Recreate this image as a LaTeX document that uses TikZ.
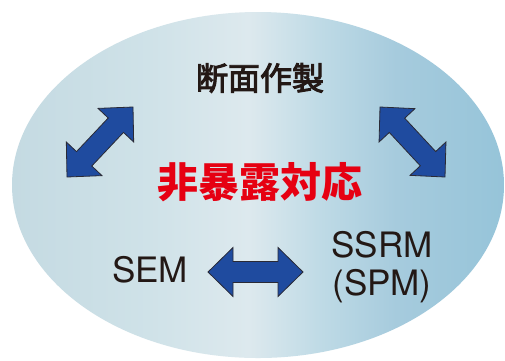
\documentclass[tikz,border=0pt]{standalone}
\usepackage{fontspec}
\setmainfont{TeX Gyre Heros}
\newfontfamily\jpfont{Noto Sans CJK JP}
\newfontfamily\jpmedium[FakeBold=3]{Noto Sans CJK JP}
\usetikzlibrary{calc}
\definecolor{txt}{HTML}{231815}
\definecolor{redtxt}{HTML}{E60012}
\definecolor{arrowblue}{HTML}{1F4B9F}
\definecolor{arrowedge}{HTML}{2A2A35}
\pgfdeclarehorizontalshading{ovalshade}{100bp}{%
  rgb(0bp)=(0.769,0.855,0.886);
  rgb(25bp)=(0.769,0.855,0.886);
  rgb(39bp)=(0.812,0.886,0.910);
  rgb(49bp)=(0.867,0.914,0.933);
  rgb(56bp)=(0.753,0.859,0.902);
  rgb(64bp)=(0.651,0.796,0.867);
  rgb(75bp)=(0.588,0.769,0.851);
  rgb(100bp)=(0.588,0.769,0.851)}
\tikzset{
  jplabel/.style={font=\jpmedium\fontsize{32}{36}\selectfont, text=txt, inner sep=0pt},
  keylabel/.style={font=\jpfont\bfseries\fontsize{41}{46}\selectfont, text=redtxt, inner sep=0pt},
  latlabel/.style={font=\fontsize{35}{38}\selectfont, text=txt, inner sep=0pt, align=center},
  fatarrow/.style={fill=arrowblue, draw=arrowedge, line width=0.8pt, line join=miter}
}
% double fat arrow between two named coordinates
\newcommand\dblarrow[2]{%
  \draw[fatarrow]
    (#1)
    -- ($ ($(#1)!25pt!(#2)$)!24.5pt!90:(#2) $)
    -- ($ ($(#1)!25pt!(#2)$)!10.5pt!90:(#2) $)
    -- ($ ($(#2)!25pt!(#1)$)!10.5pt!-90:(#1) $)
    -- ($ ($(#2)!25pt!(#1)$)!24.5pt!-90:(#1) $)
    -- (#2)
    -- ($ ($(#2)!25pt!(#1)$)!24.5pt!90:(#1) $)
    -- ($ ($(#2)!25pt!(#1)$)!10.5pt!90:(#1) $)
    -- ($ ($(#1)!25pt!(#2)$)!10.5pt!-90:(#2) $)
    -- ($ ($(#1)!25pt!(#2)$)!24.5pt!-90:(#2) $)
    -- cycle;}
\begin{document}
\begin{tikzpicture}[x=1pt,y=-1pt]
  \useasboundingbox (0,0) rectangle (505,360);
  \fill[white] (0,0) rectangle (505,360);
  \begin{scope}
    \clip (0,0) rectangle (505,360);
    \shade[shading=ovalshade] (258,185) ellipse [x radius=246, y radius=173];
  \end{scope}

  \node[jplabel] (title) at (260,78) {断面作製};
  \node[keylabel] (center) at (260,182) {非暴露対応};
  \node[latlabel] (sem) at (150,270) {SEM};
  \node[latlabel] (ssrm) at (382,267) {SSRM\\(SPM)};

  \coordinate (tlA) at (67,177);
  \coordinate (tlB) at (133,107);
  \coordinate (trA) at (380,107);
  \coordinate (trB) at (445,177);
  \coordinate (hA) at (208,272);
  \coordinate (hB) at (303,272);

  \dblarrow{tlA}{tlB}
  \dblarrow{trA}{trB}
  \dblarrow{hA}{hB}
\end{tikzpicture}
\end{document}
